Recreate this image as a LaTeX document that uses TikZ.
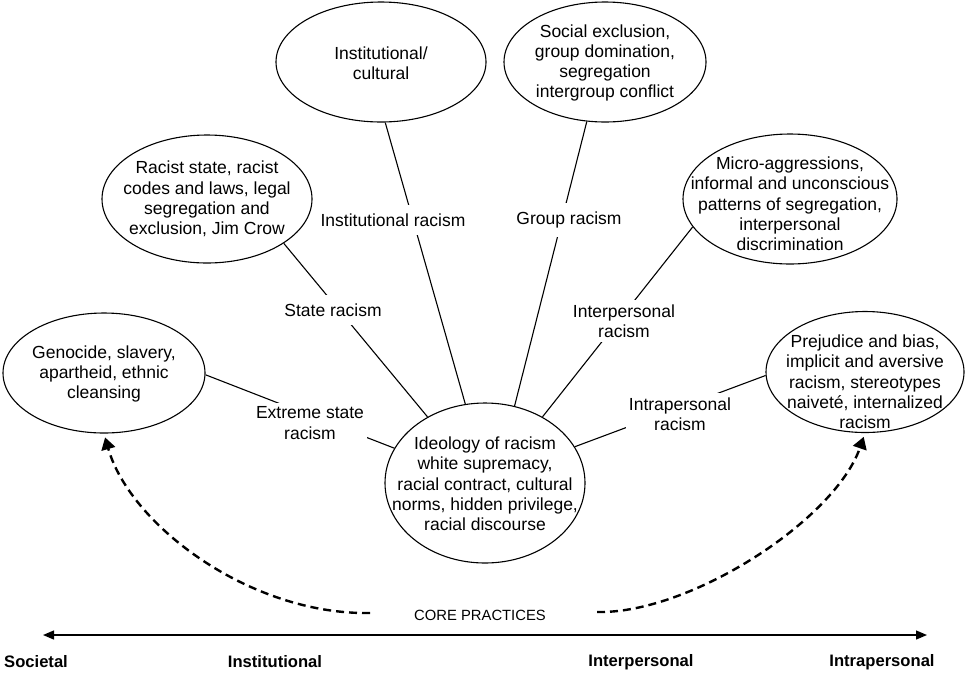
\documentclass[tikz,border=0pt]{standalone}
\usepackage{fontspec}
\setmainfont{Liberation Sans}
\usetikzlibrary{shapes.geometric,arrows.meta}
\newcommand\fsz{\fontsize{17.5}{20.3}\selectfont}
\newcommand\botsz{\fontsize{16.6}{19}\selectfont\bfseries}
\begin{document}
\begin{tikzpicture}[x=1pt,y=-1pt,
  oval/.style={draw, ellipse, inner sep=0pt, line width=1.1pt},
  txt/.style={align=center, font=\fsz, inner sep=0pt},
  conn/.style={line width=1.1pt},
  lab/.style={fill=white, align=center, font=\fsz, inner xsep=3pt, inner ysep=4pt},
  lab1/.style={lab, inner ysep=9pt},
  dsh/.style={line width=2.4pt, dash pattern=on 8pt off 5pt, -{Triangle[length=12pt,width=14pt]}, shorten >=4pt},
  bot/.style={font=\botsz, inner sep=0pt}]
\path[use as bounding box] (0,0) rectangle (965,673);

% ellipses
\node[oval, minimum width=202pt, minimum height=120pt] (gen) at (104,373) {};
\node[oval, minimum width=210pt, minimum height=128pt] (rs) at (207,199) {};
\node[oval, minimum width=210pt, minimum height=120pt] (inst) at (381,62) {};
\node[oval, minimum width=202pt, minimum height=120pt] (soc) at (605,62) {};
\node[oval, minimum width=214pt, minimum height=130pt] (mic) at (790,199) {};
\node[oval, minimum width=198pt, minimum height=121pt] (pre) at (865,372) {};
\node[oval, minimum width=200pt, minimum height=160pt] (cen) at (485,483) {};

% texts
\node[txt] (tgen) at (104,374) {Genocide, slavery,\\apartheid, ethnic\\cleansing};
\node[txt] (trs) at (207,199) {Racist state, racist\\codes and laws, legal\\segregation and\\exclusion, Jim Crow};
\node[txt] (tinst) at (381,63) {Institutional/\\cultural};
\node[txt] (tsoc) at (605,63) {Social exclusion,\\group domination,\\segregation\\intergroup conflict};
\node[txt] (tmic) at (790,204) {Micro-aggressions,\\informal and unconscious\\patterns of segregation,\\interpersonal\\discrimination};
\node[txt] (tpre) at (865,382) {Prejudice and bias,\\implicit and aversive\\racism, stereotypes\\naiveté, internalized\\racism};
\node[txt] (tcen) at (485,484) {Ideology of racism\\white supremacy,\\racial contract, cultural\\norms, hidden privilege,\\racial discourse};

% connectors
\draw[conn] (rs.-30) -- (cen.131);
\draw[conn] (inst.-86) -- (cen.104);
\draw[conn] (soc.-107.6) -- (cen.69);
\draw[conn] (mic.196.5) -- (cen.49.5);
\draw[conn] (pre.182) -- (cen.22.9);
\draw[conn] (gen.-1) -- (cen.159.7);

% labels
\node[lab1] (lsr) at (333,310) {State racism};
\node[lab1] (lir) at (393,220) {Institutional racism};
\node[lab1] (lgr) at (569,220) {Group racism};
\node[lab] (lip) at (624,321) {Interpersonal\\racism};
\node[lab] (lext) at (310,423) {Extreme state\\racism};
\node[lab] (lintra) at (680,414) {Intrapersonal\\racism};

% core practices
\coordinate (dl) at (370,613);
\coordinate (dr) at (597,612);
\draw[dsh] (dl) .. controls (250,615) and (130,525) .. (gen.south);
\draw[dsh] (dr) .. controls (690,614) and (835,520) .. (pre.south);
\node[font=\fontsize{14.8}{17}\selectfont, inner sep=0pt] (core) at (480,615) {CORE PRACTICES};

\coordinate (al) at (43,635);
\coordinate (ar) at (927,635);
\draw[line width=1.3pt, {Triangle[length=11pt,width=9pt]}-{Triangle[length=11pt,width=9pt]}] (al) -- (ar);

\node[bot, anchor=west] (bsoc) at (4,662) {Societal};
\node[bot] (binst) at (275,662) {Institutional};
\node[bot] (binter) at (641,662) {Interpersonal};
\node[bot] (bintra) at (882,662) {Intrapersonal};
\end{tikzpicture}
\end{document}
